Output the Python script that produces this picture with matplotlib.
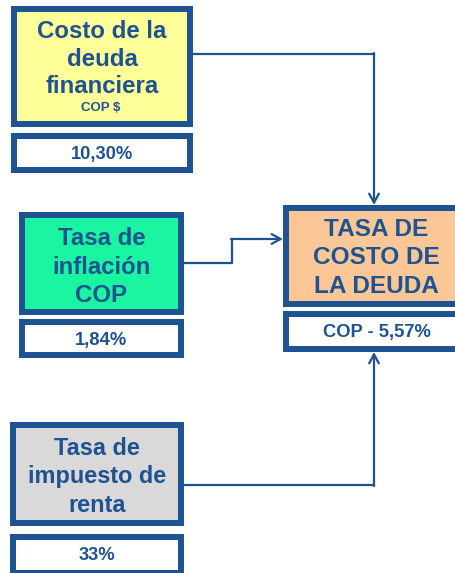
import matplotlib.pyplot as plt
from matplotlib.patches import Rectangle

plt.rcParams['font.family'] = ['Liberation Sans', 'DejaVu Sans']

BLUE = '#1F5290'

# box texts and values
input_labels = ['Costo de la\ndeuda\nfinanciera', 'Tasa de\ninflación\nCOP', 'Tasa de\nimpuesto de\nrenta']
input_values = ['10,30%', '1,84%', '33%']
input_colors = ['#FFFF99', '#19F5A0', '#D9D9D9']
result_label = 'TASA DE\nCOSTO DE\nLA DEUDA'
result_value = 'COP - 5,57%'
result_color = '#FBC797'
sub_label = 'COP $'

W, H = 456, 573
fig = plt.figure(figsize=(W / 100, H / 100), dpi=100)
ax = fig.add_axes([0, 0, 1, 1])
ax.set_xlim(0, W)
ax.set_ylim(H, 0)
ax.axis('off')


def box(x0, y0, x1, y1, face, border):
    # outer pixel edges -> rectangle centred on the border
    h = border / 2
    ax.add_patch(Rectangle((x0 + h, y0 + h), x1 - x0 - border, y1 - y0 - border,
                           facecolor=face, edgecolor=BLUE, lw=border * 0.72,
                           joinstyle='miter', zorder=2))


# (main box, value box, label centre y, value centre y, label size, spacing)
layout = [
    ((11, 6, 193, 127), (11, 133, 193, 173), 59, 155, 17.3, 1.27),
    ((19, 212, 184, 315), (19, 319, 184, 358), 267, 341, 17.3, 1.3),
    ((10, 422, 184, 526), (10, 534, 184, 576), 477, 556, 16.9, 1.3),
]

for (mb, vb, ly, vy, fs, sp), lab, val, col in zip(layout, input_labels, input_values, input_colors):
    box(*mb, col, 6)
    box(*vb, 'white', 6)
    cx = (mb[0] + mb[2]) / 2
    ax.text(cx, ly, lab, ha='center', va='center', fontsize=fs, fontweight='bold',
            color=BLUE, linespacing=sp, zorder=3)
    ax.text(cx, vy, val, ha='center', va='center', fontsize=13.2, fontweight='bold',
            color=BLUE, zorder=3)

ax.text(101, 108, sub_label, ha='center', va='center', fontsize=9.5, fontweight='bold',
        color=BLUE, zorder=3)

# result box (runs off the right edge)
box(283, 205, 470, 307, result_color, 6)
box(283, 311, 470, 352, 'white', 6)
ax.text(376, 258, result_label, ha='center', va='center', fontsize=17.6, fontweight='bold',
        color=BLUE, linespacing=1.3, zorder=3)
ax.text(377, 333, result_value, ha='center', va='center', fontsize=13.2, fontweight='bold',
        color=BLUE, zorder=3)

# connectors
lw = 1.6
arrow = dict(arrowstyle='->,head_length=0.65,head_width=0.35', lw=lw, color=BLUE,
             shrinkA=0, shrinkB=0)

ax.plot([193, 374], [54, 54], color=BLUE, lw=lw, zorder=1)
ax.annotate('', xy=(374, 205), xytext=(374, 53), arrowprops=arrow)

ax.plot([184, 232, 232], [263, 263, 239], color=BLUE, lw=lw, zorder=1)
ax.annotate('', xy=(283, 239), xytext=(231, 239), arrowprops=arrow)

ax.plot([184, 374], [485, 485], color=BLUE, lw=lw, zorder=1)
ax.annotate('', xy=(374, 352), xytext=(374, 486), arrowprops=arrow)

fig.savefig('out.png', dpi=100)
